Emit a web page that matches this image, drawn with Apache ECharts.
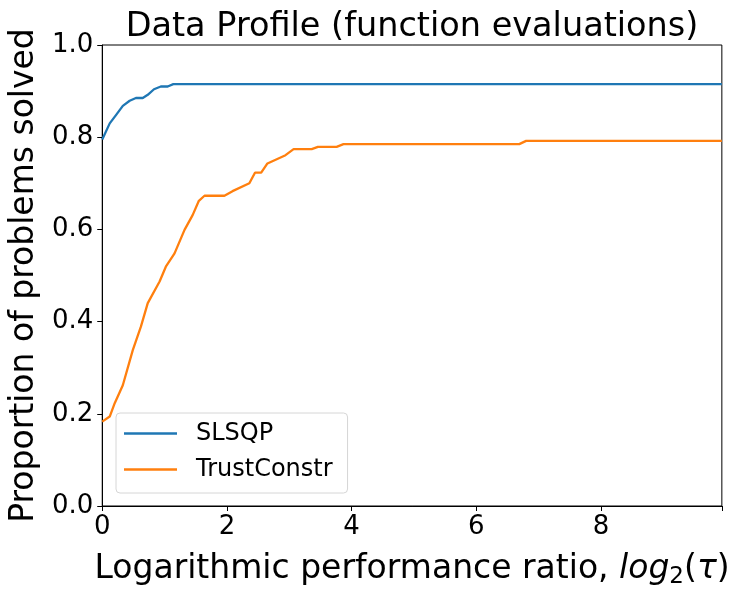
<!DOCTYPE html>
<html>
<head>
<meta charset="utf-8">
<script src="https://cdn.jsdelivr.net/npm/echarts@6/dist/echarts.min.js"></script>
<style>
  html, body { margin: 0; padding: 0; background: #fff; }
  #chart { width: 732px; height: 596px; }
</style>
</head>
<body>
<div id="chart"></div>
<script>
// SLSQP profile
const slsqpX = [0, 0.12, 0.22, 0.33, 0.44, 0.54, 0.65, 0.73, 0.83, 0.94, 1.05, 1.14, 9.94]
const slsqpY = [0.795, 0.830, 0.848, 0.868, 0.879, 0.885, 0.885, 0.892, 0.904, 0.910, 0.910, 0.915, 0.915]

// TrustConstr profile
const trustX = [0, 0.12, 0.20, 0.33, 0.49, 0.62, 0.73, 0.92, 1.02, 1.16, 1.32, 1.45, 1.55, 1.64, 1.96,
  2.09, 2.36, 2.45, 2.55, 2.65, 2.94, 3.07, 3.36, 3.46, 3.76, 3.87, 6.69, 6.80, 9.94]
const trustY = [0.183, 0.194, 0.223, 0.262, 0.338, 0.389, 0.440, 0.487, 0.519, 0.548, 0.599, 0.631, 0.662, 0.673, 0.673,
  0.683, 0.700, 0.723, 0.723, 0.743, 0.761, 0.774, 0.774, 0.779, 0.779, 0.785, 0.785, 0.792, 0.792]

const xMax = 9.94
const xTicks = [0, 2, 4, 6, 8]
const yTicks = [0, 0.2, 0.4, 0.6, 0.8, 1.0]

const font = 'DejaVu Sans'
const pairs = (xs, ys) => xs.map((x, i) => [x, ys[i]])

const chart = echarts.init(document.getElementById('chart'))

const option = {
  backgroundColor: '#fff',
  animation: false,
  title: {
    text: 'Data Profile (function evaluations)',
    left: 407,
    top: 4,
    textAlign: 'center',
    textStyle: { fontFamily: font, fontSize: 33.5, fontWeight: 'normal', color: '#000', lineHeight: 36 }
  },
  grid: {
    left: 101, right: 9, top: 45, bottom: 90,
    show: true, borderColor: '#000', borderWidth: 1
  },
  legend: {
    orient: 'vertical',
    left: 116,
    top: 413,
    padding: [8, 15, 11, 8],
    icon: 'rect',
    itemWidth: 53,
    itemHeight: 2.5,
    itemGap: 11,
    borderColor: '#d6d6d6',
    borderWidth: 1,
    borderRadius: 4,
    backgroundColor: 'rgba(255,255,255,0.8)',
    textStyle: { fontFamily: font, fontSize: 24, lineHeight: 25, color: '#000', padding: [0, 0, 0, 14] },
    data: ['SLSQP', 'TrustConstr']
  },
  xAxis: {
    type: 'value',
    min: 0,
    max: xMax,
    interval: 2,
    name: 'Logarithmic performance ratio, {i|log}{s|2}({i|τ})',
    nameLocation: 'middle',
    nameGap: 44,
    nameTextStyle: {
      fontFamily: font, fontSize: 33, color: '#000',
      rich: {
        i: { fontFamily: font, fontSize: 33, fontStyle: 'italic', color: '#000' },
        s: { fontFamily: font, fontSize: 23, color: '#000', padding: [16, 0, 0, 0] }
      }
    },
    axisLine: { lineStyle: { color: '#000', width: 1 } },
    axisTick: { length: 5, lineStyle: { color: '#000' } },
    axisLabel: {
      fontFamily: font, fontSize: 26, lineHeight: 26, color: '#000', margin: 8,
      formatter: v => xTicks.includes(v) ? String(v) : ''
    },
    splitLine: { show: false }
  },
  yAxis: {
    type: 'value',
    min: 0,
    max: 1,
    interval: 0.2,
    name: 'Proportion of problems solved',
    nameLocation: 'middle',
    nameGap: 56,
    nameTextStyle: { fontFamily: font, fontSize: 33, color: '#000' },
    axisLine: { show: true, lineStyle: { color: '#000', width: 1 } },
    axisTick: { show: true, length: 5, lineStyle: { color: '#000' } },
    axisLabel: {
      fontFamily: font, fontSize: 26, color: '#000', margin: 9,
      formatter: v => yTicks.some(t => Math.abs(t - v) < 1e-9) ? v.toFixed(1) : ''
    },
    splitLine: { show: false }
  },
  series: [
    {
      name: 'SLSQP',
      type: 'line',
      data: pairs(slsqpX, slsqpY),
      symbol: 'none',
      color: '#1f77b4',
      lineStyle: { width: 2.3, color: '#1f77b4' }
    },
    {
      name: 'TrustConstr',
      type: 'line',
      data: pairs(trustX, trustY),
      symbol: 'none',
      color: '#ff7f0e',
      lineStyle: { width: 2.3, color: '#ff7f0e' }
    }
  ]
}

chart.setOption(option)
window.addEventListener('resize', chart.resize)
</script>
</body>
</html>
